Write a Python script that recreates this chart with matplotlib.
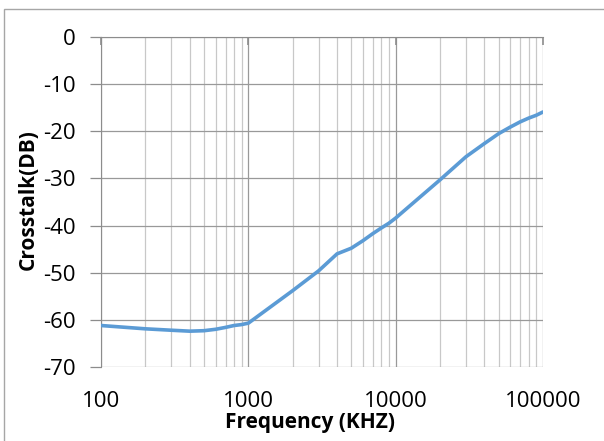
import numpy as np
import matplotlib
matplotlib.use('Agg')
import matplotlib.pyplot as plt
from matplotlib.patches import Rectangle
from matplotlib.ticker import FixedLocator, FuncFormatter, NullFormatter

freq_khz = [100, 200, 300, 400, 500, 600, 700, 800, 900, 1000,
            2000, 3000, 4000, 5000, 6000, 7000, 8000, 9000, 10000,
            20000, 30000, 40000, 50000, 60000, 70000, 80000, 90000, 100000]
crosstalk_db = [-61.2, -61.9, -62.2, -62.4, -62.3, -62.0, -61.6, -61.2, -61.0, -60.7,
                -53.8, -49.6, -46.0, -44.8, -43.2, -41.7, -40.5, -39.5, -38.4,
                -30.3, -25.4, -22.6, -20.5, -19.1, -18.0, -17.2, -16.6, -15.9]

y_ticks = [0, -10, -20, -30, -40, -50, -60, -70]
x_major = [100, 1000, 10000, 100000]

plt.rcParams['font.family'] = ['Open Sans', 'DejaVu Sans']
plt.rcParams['axes.unicode_minus'] = False

fig = plt.figure(figsize=(6.04, 4.41), dpi=100)
ax = fig.add_axes([101 / 604, 1 - 367 / 441, 442 / 604, 330 / 441])

ax.plot(freq_khz, crosstalk_db, color='#5b9bd5', lw=2.6, solid_capstyle='round',
        solid_joinstyle='round', zorder=3)

ax.set_xscale('log')
ax.set_xlim(100, 100000)
ax.set_ylim(-70, 0)
ax.xaxis.set_major_locator(FixedLocator(x_major))
ax.xaxis.set_minor_locator(FixedLocator(
    [m * 10 ** e for e in range(2, 5) for m in range(2, 10)]))
ax.xaxis.set_major_formatter(FuncFormatter(lambda v, p: '%d' % v))
ax.xaxis.set_minor_formatter(NullFormatter())
ax.set_yticks(y_ticks)

ax.grid(True, which='major', color='#999999', lw=0.9)
ax.grid(True, which='minor', axis='x', color='#c8c8c8', lw=0.9)
ax.set_axisbelow(True)

for s in ['right', 'bottom']:
    ax.spines[s].set_visible(False)
ax.spines['left'].set_color('#8c8c8c')
ax.spines['top'].set_color('#8c8c8c')

ax.tick_params(axis='y', which='major', length=8, width=0.9, color='#8c8c8c',
               pad=10.5, labelsize=16)
ax.tick_params(axis='x', which='major', length=6, width=1.2, color='#8c8c8c',
               direction='in', top=True, bottom=False, pad=17, labelsize=16)
ax.tick_params(axis='x', which='minor', length=0, top=False, bottom=False)

ax.set_xlabel('Frequency (KHZ)', fontsize=15, fontweight='bold')
ax.set_ylabel('Crosstalk(DB)', fontsize=15, fontweight='bold')
ax.xaxis.set_label_coords(0.473, -0.136)
ax.yaxis.set_label_coords(-0.141, 0.506)

fig.patches.append(Rectangle((4 / 604, -0.01), 1.0, 1 - 8.5 / 441 + 0.01,
                             transform=fig.transFigure, fill=False,
                             edgecolor='#a6a6a6', lw=1.0))

fig.savefig('out.png', dpi=100)
